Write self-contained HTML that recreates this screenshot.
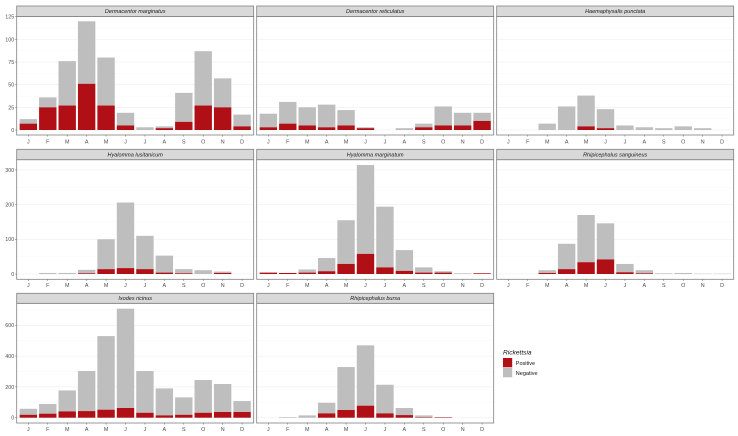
<!DOCTYPE html>
<html>
<head>
<meta charset="utf-8">
<title>Rickettsia positivity by tick species and month</title>
<style>
html,body{margin:0;padding:0;background:#fff;}
svg{display:block;filter:blur(0.25px);}
text{font-family:"Liberation Sans",sans-serif;}
</style>
</head>
<body>
<svg id="chart" width="738" height="436" viewBox="0 0 738 436" xmlns="http://www.w3.org/2000/svg"></svg>
<script>
const months = ['J','F','M','A','M','J','J','A','S','O','N','D'];

const marginatusPositive = [7,25,27,51,27,5,0,2,9,27,25,4];
const marginatusNegative = [5,11,49,69,53,14,3,2,32,60,32,13];
const reticulatusPositive = [3,7,5,3,5,2,0,0,3,5,5,10];
const reticulatusNegative = [15,24,20,25,17,1,0,2,4,21,14,9];
const punctataPositive = [0,0,0,0,4,2,0,0,0,0,0,0];
const punctataNegative = [0,0,7,26,34,21,5,3,2,4,2,0];
const lusitanicumPositive = [0,0,0,2,14,17,14,4,2,0,3,0];
const lusitanicumNegative = [0,3,3,10,86,189,96,49,12,11,4,0];
const marginatumPositive = [4,3,4,8,29,58,19,9,4,4,0,2];
const marginatumNegative = [0,0,9,38,126,256,175,60,15,4,2,0];
const sanguineusPositive = [0,0,3,14,34,42,5,2,0,0,0,0];
const sanguineusNegative = [0,0,8,73,136,104,24,9,2,3,1,1];
const ricinusPositive = [19,26,41,43,52,63,32,15,19,32,37,37];
const ricinusNegative = [39,63,136,260,478,645,271,175,113,213,182,71];
const bursaPositive = [0,0,0,28,50,78,28,17,3,3,0,0];
const bursaNegative = [0,4,15,69,279,392,186,46,12,1,0,0];

const row1Ticks = [0,25,50,75,100,125];
const row2Ticks = [0,100,200,300];
const row3Ticks = [0,200,400,600];

const NS = 'http://www.w3.org/2000/svg';
const svg = document.getElementById('chart');
const RED = '#b00f15', GREY = '#bebebe';

function make(tag, attrs, parent) {
  const el = document.createElementNS(NS, tag);
  for (const k in attrs) el.setAttribute(k, attrs[k]);
  (parent || svg).appendChild(el);
  return el;
}

const colLeft = [16.7, 256.7, 496.7];
const panelWidth = 237;
const rowLayout = [
  {stripTop: 6, top: 16.5, bottom: 135, zero: 130, pxPerUnit: 22.65 / 25, ticks: row1Ticks, labelY: 143.4},
  {stripTop: 149.3, top: 159.7, bottom: 279.3, zero: 274, pxPerUnit: 34.7 / 100, ticks: row2Ticks, labelY: 287.2},
  {stripTop: 293.3, top: 303.3, bottom: 423, zero: 417.7, pxPerUnit: 30.8 / 200, ticks: row3Ticks, labelY: 431}
];

const panels = [
  {name: 'Dermacentor marginatus', row: 0, col: 0, pos: marginatusPositive, neg: marginatusNegative},
  {name: 'Dermacentor reticulatus', row: 0, col: 1, pos: reticulatusPositive, neg: reticulatusNegative},
  {name: 'Haemaphysalis punctata', row: 0, col: 2, pos: punctataPositive, neg: punctataNegative},
  {name: 'Hyalomma lusitanicum', row: 1, col: 0, pos: lusitanicumPositive, neg: lusitanicumNegative},
  {name: 'Hyalomma marginatum', row: 1, col: 1, pos: marginatumPositive, neg: marginatumNegative},
  {name: 'Rhipicephalus sanguineus', row: 1, col: 2, pos: sanguineusPositive, neg: sanguineusNegative},
  {name: 'Ixodes ricinus', row: 2, col: 0, pos: ricinusPositive, neg: ricinusNegative},
  {name: 'Rhipicephalus bursa', row: 2, col: 1, pos: bursaPositive, neg: bursaNegative}
];

function xScale(left, i) { return left + 11.65 + i * 19.43; }
function yScale(layout, v) { return layout.zero - v * layout.pxPerUnit; }

panels.forEach(function (p) {
  const L = rowLayout[p.row];
  const left = colLeft[p.col];
  const right = left + panelWidth;
  const g = make('g', {});
  
  

  const bg = make('rect', {x: left, y: L.top, width: panelWidth, height: L.bottom - L.top, fill: '#fff'}, g);
  
  

  // gridlines: major at each tick, minor halfway between
  const step = L.ticks[1] - L.ticks[0];
  for (let v = L.ticks[0]; v <= L.ticks[L.ticks.length - 1] + step / 2; v += step / 2) {
    const yy = yScale(L, v);
    if (yy < L.top) continue;
    const isMajor = Math.round(v / step) * step === v;
    const gl = make('line', {x1: left, x2: right, y1: yy, y2: yy, stroke: isMajor ? '#ebebeb' : '#f3f3f3', 'stroke-width': isMajor ? 0.5 : 0.35}, g);
    
    
  }

  // stacked bars
  months.forEach(function (m, i) {
    const cx = xScale(left, i);
    const w = 17.4;
    const y0 = yScale(L, 0);
    const y1 = yScale(L, p.pos[i]);
    const y2 = yScale(L, p.pos[i] + p.neg[i]);
    if (p.neg[i] > 0) {
      const barN = make('rect', {x: cx - w / 2, y: y2, width: w, height: y1 - y2, fill: GREY}, g);
      
      
    }
    if (p.pos[i] > 0) {
      const barP = make('rect', {x: cx - w / 2, y: y1, width: w, height: y0 - y1, fill: RED}, g);
      
      
    }
    const tick = make('line', {x1: cx, x2: cx, y1: L.bottom, y2: L.bottom + 1.6, stroke: '#555', 'stroke-width': 0.5}, g);
    
    
    const label = make('text', {x: cx, y: L.labelY, 'font-size': 5.4, fill: '#4d4d4d', 'text-anchor': 'middle'}, g);
    label.textContent = m;
    
    
  });

  // y axis on the first column only
  if (p.col === 0) {
    L.ticks.forEach(function (v) {
      const yy = yScale(L, v);
      const t = make('line', {x1: left - 1.6, x2: left, y1: yy, y2: yy, stroke: '#555', 'stroke-width': 0.5}, g);
      
      
      const lab = make('text', {x: left - 2.4, y: yy + 1.9, 'font-size': 5.4, fill: '#4d4d4d', 'text-anchor': 'end'}, g);
      lab.textContent = String(v);
      
      
    });
  }

  const border = make('rect', {x: left, y: L.top, width: panelWidth, height: L.bottom - L.top, fill: 'none', stroke: '#808080', 'stroke-width': 0.8}, g);
  
  

  const strip = make('rect', {x: left, y: L.stripTop, width: panelWidth, height: L.top - L.stripTop, fill: '#d9d9d9', stroke: '#808080', 'stroke-width': 0.8}, g);
  
  

  const title = make('text', {x: left + panelWidth / 2, y: (L.stripTop + L.top) / 2 + 1.9, 'font-size': 5.5, 'font-style': 'italic', fill: '#1a1a1a', 'text-anchor': 'middle'}, g);
  title.textContent = p.name;
  
  
});

// legend
const legend = make('g', {});



const legendTitle = make('text', {x: 503, y: 354.5, 'font-size': 6.6, 'font-style': 'italic', fill: '#111'}, legend);
legendTitle.textContent = 'Rickettsia';



const keyPositive = make('rect', {x: 503, y: 358, width: 9.2, height: 9.3, fill: RED}, legend);



const keyNegative = make('rect', {x: 503, y: 368, width: 9.2, height: 9.3, fill: GREY}, legend);



const labelPositive = make('text', {x: 515.8, y: 365, 'font-size': 5.5, fill: '#111'}, legend);
labelPositive.textContent = 'Positive';



const labelNegative = make('text', {x: 515.8, y: 375.2, 'font-size': 5.5, fill: '#111'}, legend);
labelNegative.textContent = 'Negative';


</script>
</body>
</html>
